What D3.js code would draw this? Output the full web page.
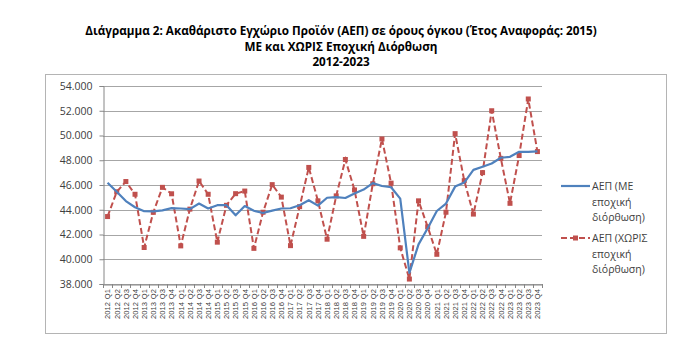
<!DOCTYPE html>
<html><head><meta charset="utf-8">
<script src="https://cdn.jsdelivr.net/npm/d3@7"></script>
<style>
html,body{margin:0;padding:0;background:#fff;}
svg{display:block;}
</style></head>
<body>
<svg id="chart" width="700" height="357"></svg>
<script>
const titleLines = [
  "Διάγραμμα 2: Ακαθάριστο Εγχώριο Προϊόν (ΑΕΠ) σε όρους όγκου (Έτος Αναφοράς: 2015)",
  "ΜΕ και ΧΩΡΙΣ Εποχική Διόρθωση",
  "2012-2023"
];
const years = [2012,2013,2014,2015,2016,2017,2018,2019,2020,2021,2022,2023];
const quarters = ["Q1","Q2","Q3","Q4"];
const categories = years.flatMap(y => quarters.map(q => y + " " + q));
const seasonallyAdjusted = [
  46180,45450,44700,44200, 43880,43870,43950,44130, 44100,44050,44500,44100,
  44370,44370,43550,44300, 43920,43740,43930,44100, 44120,44370,44770,44330,
  44970,45020,44950,45320, 45630,46150,45920,45820, 44900,38900,41200,42500,
  43900,44500,45870,46200, 47220,47480,47740,48200, 48280,48680,48680,48720
];
const notAdjusted = [
  43450,45450,46280,45250, 40950,43790,45810,45290, 41080,44050,46320,45250,
  41380,44360,45300,45510, 40880,43800,46030,45020, 41100,44250,47420,44720,
  41620,45120,48060,45600, 41850,46100,49720,46150, 40920,38400,44720,42620,
  40400,43800,50150,46350, 43650,47000,52000,48150, 44520,48380,52950,48700
];
const yTicks = [38000,40000,42000,44000,46000,48000,50000,52000,54000];
const legendLabels = [
  ["ΑΕΠ (ΜΕ","εποχική","διόρθωση)"],
  ["ΑΕΠ (ΧΩΡΙΣ","εποχική","διόρθωση)"]
];

const blue = "#4f81bd", red = "#c0504d", textCol = "#404040", gridCol = "#a6a6a6";
const svg = d3.select("#chart");
const locale = d3.formatLocale({decimal:",", thousands:".", grouping:[3], currency:["€",""]});
const fmt = locale.format(",");

// frame
svg.append("rect").attr("x",45.5).attr("y",74.5).attr("width",621).attr("height",259)
  .attr("fill","none").attr("stroke","#b4b4b4").attr("stroke-width",1);

// title
svg.append("g").selectAll("text").data(titleLines).join("text")
  .attr("x",341).attr("y",(d,i)=>35+i*15.5)
  .attr("text-anchor","middle")
  .attr("font-family","'Open Sans', sans-serif").attr("font-weight","bold")
  .attr("font-size",11.7).attr("fill","#000").text(d=>d);

const x = d3.scaleBand().domain(categories).range([103,542]);
const y = d3.scaleLinear().domain([38000,54000]).range([284,86]);
const cx = d => x(d) + x.bandwidth()/2;

// gridlines
svg.append("g").selectAll("line").data(yTicks).join("line")
  .attr("x1",103).attr("x2",542)
  .attr("y1",d=>Math.round(y(d))+0.5).attr("y2",d=>Math.round(y(d))+0.5)
  .attr("stroke",gridCol).attr("stroke-width",1);

// y axis
const yAxis = d3.axisLeft(y).tickValues(yTicks).tickFormat(fmt).tickSize(4).tickPadding(7);
const gy = svg.append("g").attr("transform","translate(103.5,0)").call(yAxis);
gy.select(".domain").attr("stroke","#868686");
gy.selectAll(".tick line").attr("stroke","#868686");
gy.selectAll(".tick text").attr("font-family","'Open Sans', sans-serif")
  .attr("font-size",10.5).attr("fill",textCol);

// x axis
const xAxis = d3.axisBottom(x).tickSize(0).tickFormat("");
const gx = svg.append("g").attr("transform","translate(0,284.5)").call(xAxis);
gx.select(".domain").attr("stroke","#868686");
gx.selectAll(".tick").remove();
const boundaries = categories.map(c => x(c)).concat([x.range()[1]]);
svg.append("g").selectAll("line").data(boundaries).join("line")
  .attr("x1",d=>Math.round(d)+0.5).attr("x2",d=>Math.round(d)+0.5)
  .attr("y1",284).attr("y2",288).attr("stroke","#868686");

// x labels (rotated)
const xl = svg.append("g").selectAll("g").data(categories).join("g")
  .attr("transform",d=>`translate(${cx(d)+2.8},289) rotate(-90)`);
xl.append("text").attr("text-anchor","end")
  .attr("font-family","'Liberation Sans', Arial, sans-serif").attr("font-size",7.6)
  .attr("fill",textCol)
  .text(d=>d.split(" ")[1]);
xl.append("text").attr("text-anchor","end").attr("x",-13)
  .attr("font-family","'Liberation Sans', Arial, sans-serif").attr("font-size",7.6)
  .attr("fill",textCol)
  .text(d=>d.split(" ")[0]);

// lines
const lineGen = d3.line().x((d,i)=>cx(categories[i])).y(d=>y(d));
svg.append("path").datum(notAdjusted).attr("d",lineGen)
  .attr("fill","none").attr("stroke",red).attr("stroke-width",2)
  .attr("stroke-dasharray","6,3");
svg.append("g").selectAll("rect").data(notAdjusted).join("rect")
  .attr("x",(d,i)=>cx(categories[i])-2.5).attr("y",d=>y(d)-2.5)
  .attr("width",5).attr("height",5).attr("fill",red);
svg.append("path").datum(seasonallyAdjusted).attr("d",lineGen)
  .attr("fill","none").attr("stroke",blue).attr("stroke-width",2.2)
  .attr("stroke-linejoin","round");

// legend
const lg = svg.append("g");
lg.append("line").attr("x1",561).attr("x2",590).attr("y1",186).attr("y2",186)
  .attr("stroke",blue).attr("stroke-width",2.2);
lg.append("line").attr("x1",561).attr("x2",590).attr("y1",238).attr("y2",238)
  .attr("stroke",red).attr("stroke-width",2).attr("stroke-dasharray","6,3");
lg.append("rect").attr("x",573).attr("y",235.5).attr("width",5).attr("height",5).attr("fill",red);
legendLabels.forEach((lines,k)=>{
  lg.append("g").selectAll("text").data(lines).join("text")
    .attr("x",592).attr("y",(d,i)=>190+k*52+i*15.5)
    .attr("font-family","'Open Sans', sans-serif").attr("font-size",10.5)
    .attr("fill",textCol).text(d=>d);
});
</script>
</body></html>
